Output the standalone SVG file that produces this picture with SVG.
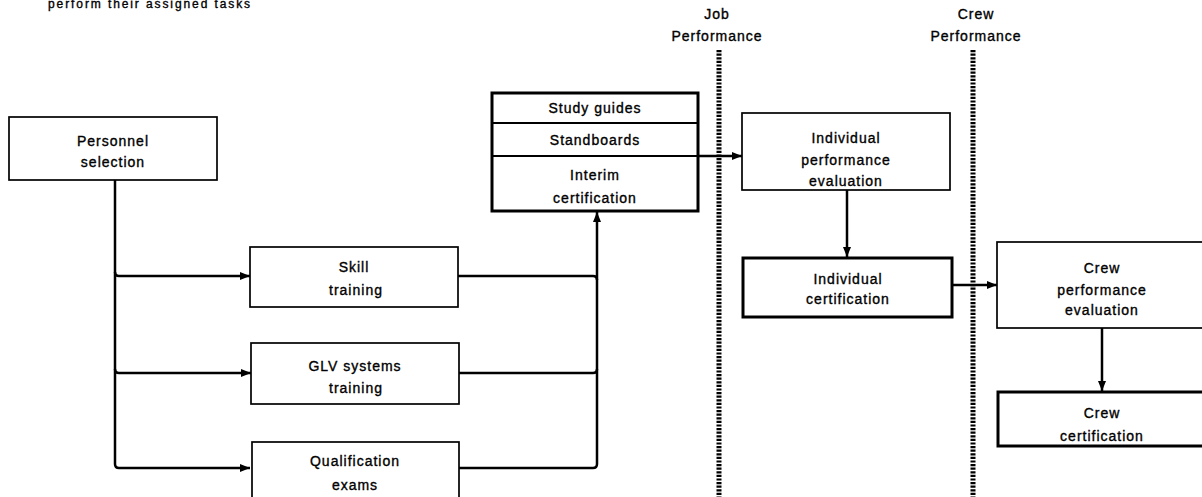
<svg xmlns="http://www.w3.org/2000/svg" width="1202" height="497" viewBox="0 0 1202 497">
<defs>
<marker id="ah" viewBox="0 0 10 8" refX="10" refY="4" markerWidth="11" markerHeight="8" markerUnits="userSpaceOnUse" orient="auto">
<path d="M0,0 L10,4 L0,8 Z" fill="#000"/>
</marker>
<style>
text{font-family:"Liberation Sans",Arial,sans-serif;font-size:14px;fill:#000;stroke:#000;stroke-width:0.35px;text-anchor:middle;letter-spacing:1px}
.box{fill:#fff;stroke:#000;stroke-width:1.7}
.tbox{fill:#fff;stroke:#000;stroke-width:3}
.c{fill:none;stroke:#000;stroke-width:2.5}
.dot{fill:none;stroke:#000;stroke-width:5;stroke-dasharray:2.2 1.4}
</style>
</defs>
<rect width="1202" height="497" fill="#fff"/>
<text x="150" y="8" style="font-size:12px;letter-spacing:1.9px">perform their assigned tasks</text>
<g id="dividers">
<line class="dot" x1="719" y1="50" x2="719" y2="497"/>
<line class="dot" x1="973" y1="50" x2="973" y2="497"/>
<text x="717" y="19">Job</text>
<text x="717" y="41">Performance</text>
<text x="976" y="19">Crew</text>
<text x="976" y="41">Performance</text>
</g>
<g id="connectors">
<path class="c" d="M115,180 V464 Q115,468 119,468 H250" marker-end="url(#ah)"/>
<path class="c" d="M115,272 Q115,276 119,276 H250" marker-end="url(#ah)"/>
<path class="c" d="M115,369 Q115,373 119,373 H251" marker-end="url(#ah)"/>
<path class="c" d="M458,276 H593 Q597,276 597,280"/>
<path class="c" d="M459,373 H593 Q597,373 597,369"/>
<path class="c" d="M459,468 H593 Q597,468 597,464 V212" marker-end="url(#ah)"/>
<path class="c" d="M698,156 H742" marker-end="url(#ah)"/>
<path class="c" d="M847,190 V257" marker-end="url(#ah)"/>
<path class="c" d="M952,285 H997" marker-end="url(#ah)"/>
<path class="c" d="M1102,328 V391" marker-end="url(#ah)"/>
</g>
<g id="personnel-selection">
<rect class="box" x="9" y="117" width="208" height="63"/>
<text x="113" y="146">Personnel</text>
<text x="113" y="167">selection</text>
</g>
<g id="skill-training">
<rect class="box" x="250" y="247" width="208" height="60"/>
<text x="354" y="272">Skill</text>
<text x="356" y="295">training</text>
</g>
<g id="glv-training">
<rect class="box" x="251" y="343" width="208" height="61"/>
<text x="355" y="371">GLV systems</text>
<text x="356" y="393">training</text>
</g>
<g id="qualification-exams">
<rect class="box" x="252" y="442" width="207" height="60"/>
<text x="355" y="466">Qualification</text>
<text x="355" y="490">exams</text>
</g>
<g id="interim-certification">
<rect class="tbox" x="492" y="93" width="206" height="118"/>
<line x1="492" y1="123" x2="698" y2="123" stroke="#000" stroke-width="2.2"/>
<line x1="492" y1="156" x2="698" y2="156" stroke="#000" stroke-width="2.2"/>
<text x="595" y="113">Study guides</text>
<text x="595" y="145">Standboards</text>
<text x="595" y="180">Interim</text>
<text x="595" y="203">certification</text>
</g>
<g id="individual-performance-evaluation">
<rect class="box" x="742" y="113" width="208" height="77"/>
<text x="846" y="143">Individual</text>
<text x="846" y="165">performance</text>
<text x="846" y="186">evaluation</text>
</g>
<g id="individual-certification">
<rect class="tbox" x="743" y="258" width="209" height="59"/>
<text x="848" y="284">Individual</text>
<text x="848" y="304">certification</text>
</g>
<g id="crew-performance-evaluation">
<rect class="box" x="997" y="242" width="210" height="86"/>
<text x="1102" y="273">Crew</text>
<text x="1102" y="295">performance</text>
<text x="1102" y="315">evaluation</text>
</g>
<g id="crew-certification">
<rect class="tbox" x="998" y="392" width="210" height="54"/>
<text x="1102" y="418">Crew</text>
<text x="1102" y="441">certification</text>
</g>
</svg>
